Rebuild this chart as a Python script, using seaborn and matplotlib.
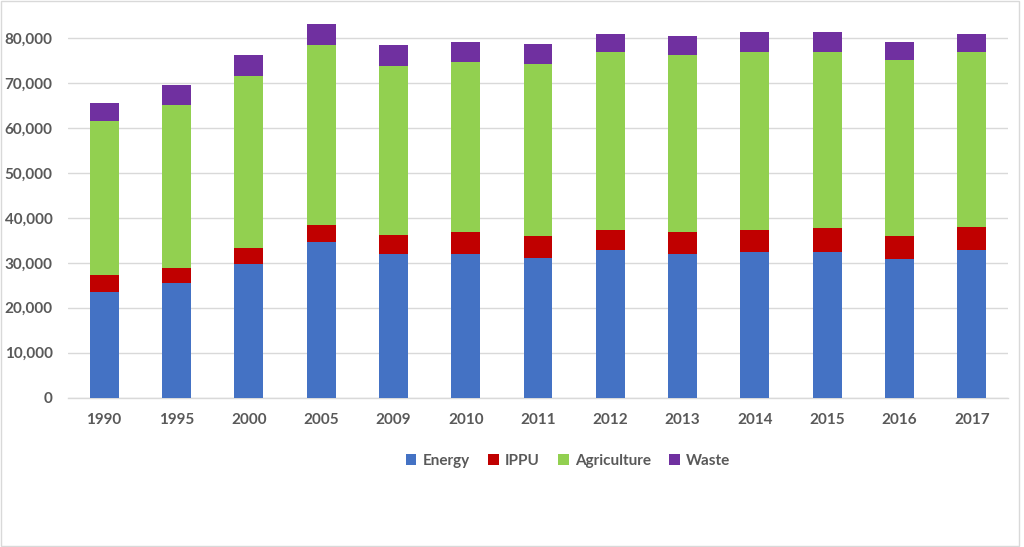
import matplotlib
matplotlib.use("Agg")
import matplotlib.pyplot as plt
from matplotlib.patches import Patch
from matplotlib.ticker import FuncFormatter
import seaborn as sns
import pandas as pd
import numpy as np

years = ["1990", "1995", "2000", "2005", "2009", "2010", "2011", "2012", "2013", "2014", "2015", "2016", "2017"]
energy = [23600, 25500, 29700, 34550, 31960, 31960, 31140, 32840, 31960, 32330, 32330, 30840, 32840]
ippu = [3680, 3410, 3630, 3850, 4220, 4810, 4740, 4530, 4810, 5040, 5330, 5040, 5050]
agriculture = [34330, 36110, 38110, 40040, 37510, 37810, 38410, 39430, 39440, 39590, 39300, 39220, 38910]
waste = [3930, 4450, 4750, 4740, 4750, 4450, 4450, 4160, 4230, 4300, 4300, 3930, 4160]

series = ["Energy", "IPPU", "Agriculture", "Waste"]
colors = ["#4472C4", "#C00000", "#92D050", "#7030A0"]

sns.set_theme(style="white")
plt.rcParams['font.family'] = ['Lato', 'DejaVu Sans']

df = pd.DataFrame({"year": years, "Energy": energy, "IPPU": ippu,
                   "Agriculture": agriculture, "Waste": waste})
cum = df[series].cumsum(axis=1)

fig = plt.figure(figsize=(10.24, 5.47), dpi=100)
ax = fig.add_axes([68/1024, 1 - 397.7/547, 940/1024, (397.7 - 20)/547])

for s, c in reversed(list(zip(series, colors))):
    sns.barplot(x=df["year"], y=cum[s], color=c, width=0.4, saturation=1,
                ax=ax, zorder=3, linewidth=0)

ax.set_ylim(0, 84000)
ax.set_xlim(-0.5, len(years) - 0.5)
ax.set_yticks(np.arange(0, 80001, 10000))
ax.yaxis.set_major_formatter(FuncFormatter(lambda v, p: f"{int(v):,}"))
ax.grid(axis="y", color="#D9D9D9", linewidth=1, zorder=0)
ax.set_axisbelow(True)
for sp in ["top", "right", "left"]:
    ax.spines[sp].set_visible(False)
ax.spines["bottom"].set_color("#D9D9D9")
ax.spines["bottom"].set_linewidth(1)
ax.set_xlabel("")
ax.set_ylabel("")
ax.tick_params(axis="both", length=0, labelsize=11, labelcolor="#595959")
ax.tick_params(axis="x", pad=11)
ax.tick_params(axis="y", pad=11)
for lab in ax.get_xticklabels() + ax.get_yticklabels():
    lab.set_fontweight("bold")

handles = [Patch(facecolor=c, edgecolor="none", label=s) for s, c in zip(series, colors)]
leg = fig.legend(handles=handles, loc="center", bbox_to_anchor=(568/1024, 1 - 461/547),
                 ncol=4, frameon=False, handlelength=0.7, handleheight=0.7,
                 handletextpad=0.4, columnspacing=1.2,
                 prop={"size": 11, "weight": "bold"})
for t in leg.get_texts():
    t.set_color("#595959")

border = plt.Rectangle((0.001, 0.001), 0.994, 0.997, transform=fig.transFigure,
                       fill=False, edgecolor="#D9D9D9", linewidth=1)
fig.patches.append(border)

fig.savefig("out.png", dpi=100)
